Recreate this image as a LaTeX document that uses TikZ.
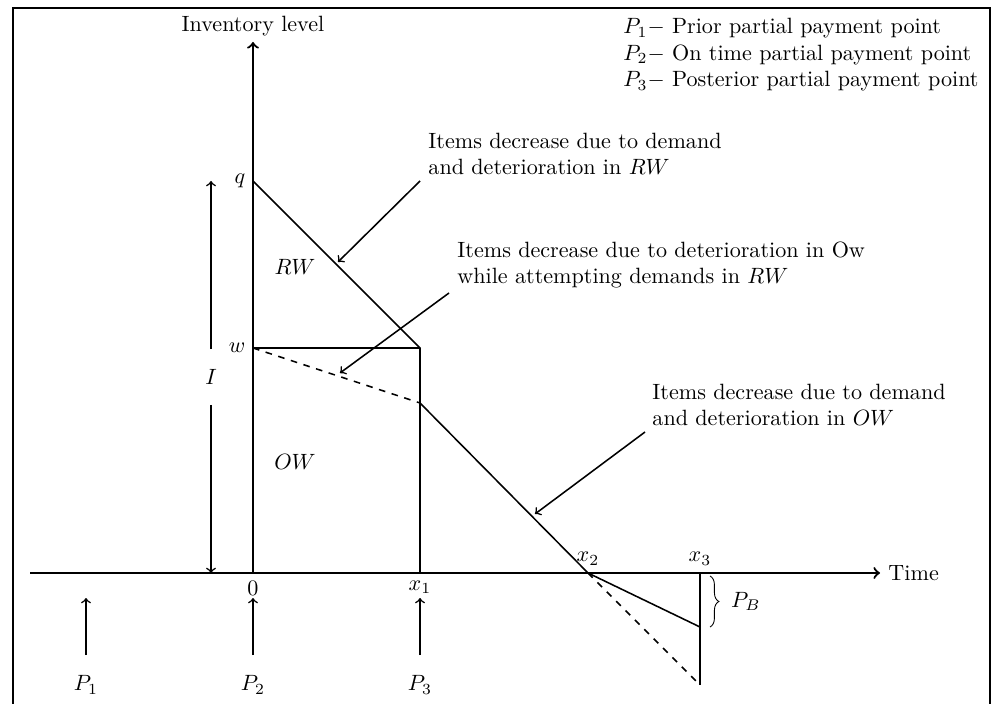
\documentclass[tikz,border=0pt]{standalone}
\usetikzlibrary{decorations.pathreplacing}

\tikzset{
  axis/.style={line width=1pt,->},
  curve/.style={line width=0.7pt},
  pointer/.style={line width=0.7pt,->},
  note/.style={align=left,anchor=west,inner sep=0pt},
}

\begin{document}
\begin{tikzpicture}[x=0.0159cm, y=-0.0159cm]
\useasboundingbox (0,0) rectangle (992,704);
\draw[thick] (13,8) rectangle (990,720);

% axes
\coordinate (O) at (253,573);
\coordinate (ytop) at (253,42);
\coordinate (xleft) at (30,573);
\coordinate (xright) at (880,573);
\draw[axis] (O) -- (ytop);
\draw[axis] (xleft) -- (xright) node[right] (xlab) {Time};
\node (ylab) at (253,26) {Inventory level};

% inventory curve
\coordinate (q) at (253,181);
\coordinate (w) at (253,348);
\coordinate (k1) at (420,348);
\coordinate (x1) at (420,573);
\coordinate (d1) at (420,403);
\coordinate (x2) at (588,573);
\coordinate (x3) at (700,573);
\coordinate (b) at (700,627);
\coordinate (e) at (700,685);
\draw[curve] (q) -- (k1) -- (x1);
\draw[curve] (w) -- (k1);
\draw[curve,dashed] (w) -- (d1);
\draw[curve] (d1) -- (x2) -- (b);
\draw[curve,dashed] (x2) -- (e);
\draw[curve] (x3) -- (e);

\node[left] (lq) at (q) {$q$};
\node[left] (lw) at (w) {$w$};
\node[below] (l0) at (O) {$0$};
\node[below] (lx1) at (x1) {$x_1$};
\node[above] (lx2) at (x2) {$x_2$};
\node[above] (lx3) at (x3) {$x_3$};
\node (rw) at (295,267) {$RW$};
\node (ow) at (295,462) {$OW$};

% backorder brace
\draw[decorate,decoration={brace,amplitude=4pt}] (710,576) -- (710,627)
  node[midway,right=6pt] (pb) {$P_B$};

% total level I
\coordinate (Itop) at (211,181);
\coordinate (Ibot) at (211,573);
\node[inner ysep=9pt] (lI) at (211,377) {$I$};
\draw[pointer] (lI.north) -- (Itop);
\draw[pointer] (lI.south) -- (Ibot);

% payment points
\foreach \x/\i in {86/1,253/2,420/3}{
  \coordinate (pb\i) at (\x,655);
  \coordinate (pt\i) at (\x,598);
  \draw[pointer] (pb\i) -- (pt\i);
  \node (p\i) at (\x,685) {$P_\i$};
}

% notes
\node[note] (n1) at (428,154) {Items decrease due to demand\\and deterioration in $RW$};
\node[note] (n2) at (457,265) {Items decrease due to deterioration in Ow\\while attempting demands in $RW$};
\node[note] (n3) at (652,405) {Items decrease due to demand\\and deterioration in $OW$};
\coordinate (a1) at (420,181);
\coordinate (h1) at (338,262);
\coordinate (a2) at (449,293);
\coordinate (h2) at (340,373);
\coordinate (a3) at (645,432);
\coordinate (h3) at (535,514);
\draw[pointer] (a1) -- (h1);
\draw[pointer] (a2) -- (h2);
\draw[pointer] (a3) -- (h3);

% legend
\node[note] (key) at (623,55) {$P_1-$ Prior partial payment point\\$P_2-$ On time partial payment point\\$P_3-$ Posterior partial payment point};
\end{tikzpicture}
\end{document}
